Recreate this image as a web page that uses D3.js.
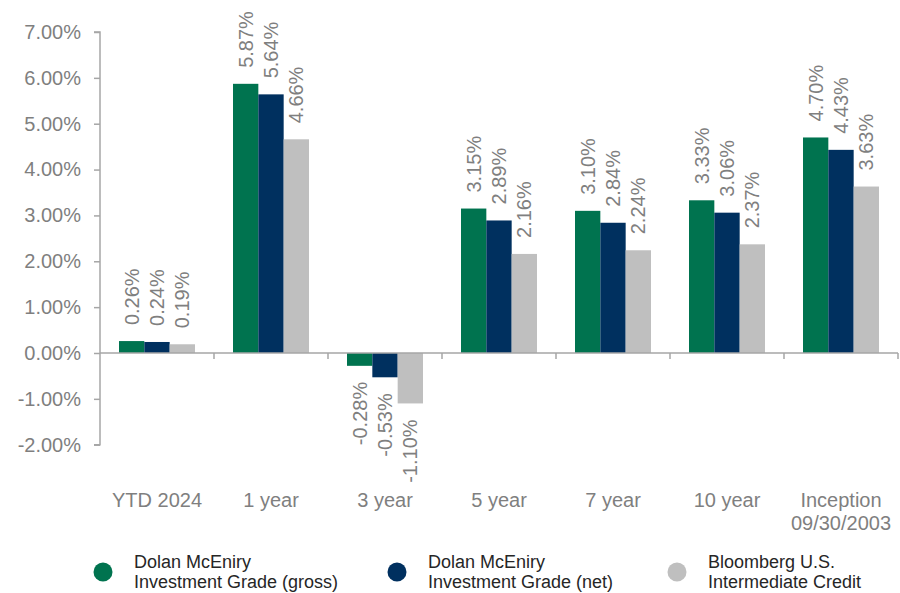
<!DOCTYPE html>
<html>
<head>
<meta charset="utf-8">
<script src="https://cdn.jsdelivr.net/npm/d3@7"></script>
<style>
  html, body { margin: 0; padding: 0; background: #fff; }
  text { font-family: "Liberation Sans", Arial, sans-serif; }
</style>
</head>
<body>
<svg id="chart" width="900" height="593"></svg>
<script>
const categories = ["YTD 2024", "1 year", "3 year", "5 year", "7 year", "10 year", "Inception\n09/30/2003"];
const seriesNames = ["Dolan McEniry\nInvestment Grade (gross)", "Dolan McEniry\nInvestment Grade (net)", "Bloomberg U.S.\nIntermediate Credit"];
const grossValues = [0.26, 5.87, -0.28, 3.15, 3.10, 3.33, 4.70];
const netValues = [0.24, 5.64, -0.53, 2.89, 2.84, 3.06, 4.43];
const benchValues = [0.19, 4.66, -1.10, 2.16, 2.24, 2.37, 3.63];
const yTicks = [-2, -1, 0, 1, 2, 3, 4, 5, 6, 7];
const colors = ["#00734F", "#00305F", "#BFBFBF"];

const series = [grossValues, netValues, benchValues];
const svg = d3.select("#chart");
const textColor = "#7F7F7F";
const axisColor = "#A6A6A6";

const x = d3.scaleBand().domain(categories).range([100, 898]).paddingInner(0).paddingOuter(0);
const y = d3.scaleLinear().domain([-2, 7]).range([444.7, 32]);
const inner = d3.scaleBand().domain(d3.range(series.length)).range([0, x.bandwidth()]).paddingInner(0).paddingOuter(0.75);

// Y axis
const yAxis = svg.append("g").attr("transform", "translate(100,0)")
  .call(d3.axisLeft(y).tickValues(yTicks).tickSize(6).tickPadding(13).tickFormat(d => d.toFixed(2) + "%"));
yAxis.selectAll("path, line").attr("stroke", axisColor).attr("stroke-width", 1.5);
yAxis.select(".domain").attr("d", `M-6,${y(7)}H0V${y(-2)}H-6`);
yAxis.selectAll("text").attr("fill", textColor).style("font-size", "20px").style("font-family", "Liberation Sans, Arial, sans-serif");

// Bars
const groups = svg.append("g").selectAll("g").data(categories).join("g")
  .attr("transform", d => `translate(${x(d)},0)`);

series.forEach((vals, si) => {
  groups.append("rect")
    .attr("x", inner(si))
    .attr("width", inner.bandwidth())
    .attr("y", (d, i) => y(Math.max(0, vals[i])))
    .attr("height", (d, i) => Math.abs(y(vals[i]) - y(0)))
    .attr("fill", colors[si]);
});

// Data labels
series.forEach((vals, si) => {
  groups.append("text")
    .attr("transform", (d, i) => {
      const cx = inner(si) + inner.bandwidth() / 2;
      const v = vals[i];
      const yy = v >= 0 ? y(v) - 16 : y(v) + 16;
      return `translate(${cx},${yy}) rotate(-90)`;
    })
    .attr("text-anchor", (d, i) => vals[i] >= 0 ? "start" : "end")
    .attr("dy", "0.35em")
    .attr("fill", textColor)
    .style("font-size", "20px")
    .text((d, i) => vals[i].toFixed(2) + "%");
});

// X axis (zero line)
const xAxis = svg.append("g").attr("transform", `translate(0,${y(0)})`);
xAxis.append("line").attr("x1", 100).attr("x2", 898).attr("stroke", axisColor).attr("stroke-width", 1.5);
xAxis.selectAll("line.tick").data(categories.map(c => x(c)).concat([898]).slice(1)).join("line")
  .attr("class", "tick")
  .attr("x1", d => d).attr("x2", d => d).attr("y1", 0).attr("y2", 6)
  .attr("stroke", axisColor).attr("stroke-width", 1.5);

// Category labels
svg.append("g").selectAll("text").data(categories).join("text")
  .attr("x", d => x(d) + x.bandwidth() / 2)
  .attr("y", 507)
  .attr("text-anchor", "middle")
  .attr("fill", textColor)
  .style("font-size", "20px")
  .each(function(d) {
    const lines = d.split("\n");
    d3.select(this).selectAll("tspan").data(lines).join("tspan")
      .attr("x", x(d) + x.bandwidth() / 2)
      .attr("dy", (l, i) => i === 0 ? 0 : 23)
      .text(l => l);
  });

// Legend
const legendX = [103, 397, 677];
const legend = svg.append("g").selectAll("g").data(seriesNames).join("g")
  .attr("transform", (d, i) => `translate(${legendX[i]},572)`);
legend.append("ellipse").attr("rx", 9.5).attr("ry", 9.5).attr("fill", (d, i) => colors[i]);
legend.append("text")
  .attr("fill", "#262626")
  .style("font-size", "18px")
  .each(function(d) {
    d3.select(this).selectAll("tspan").data(d.split("\n")).join("tspan")
      .attr("x", 31)
      .attr("y", (l, i) => i === 0 ? -4 : 16)
      .text(l => l);
  });
</script>
</body>
</html>
